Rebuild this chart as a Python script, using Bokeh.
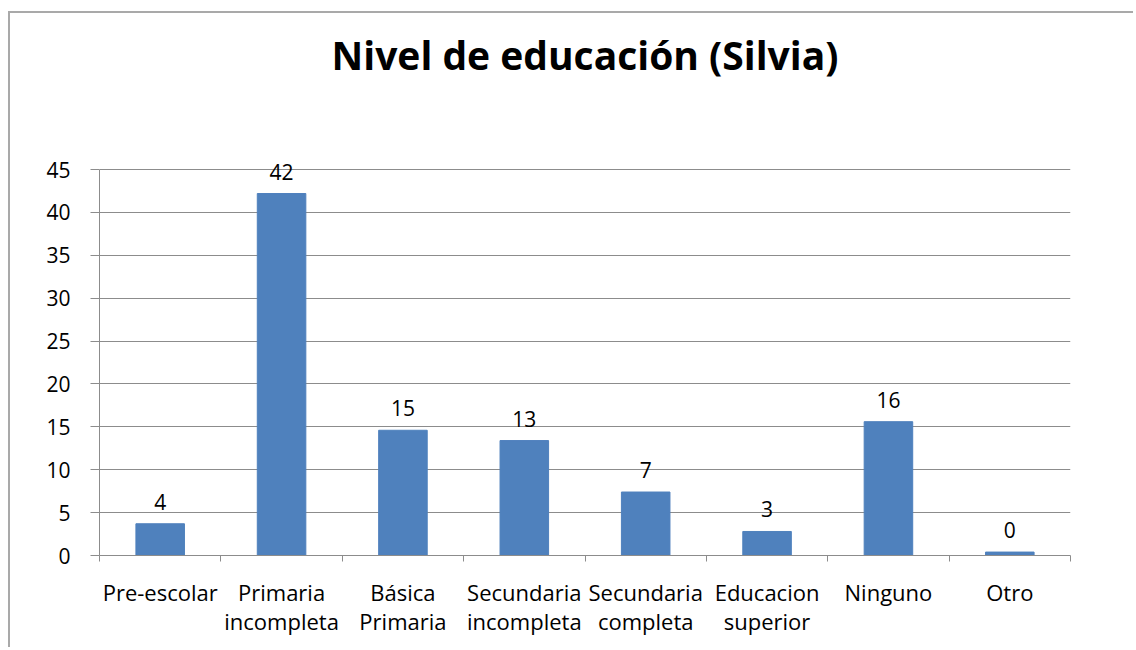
from bokeh.plotting import figure
from bokeh.models import ColumnDataSource, FixedTicker, Range1d, LabelSet, Title
from bokeh.core.properties import value
from bokeh.embed import file_html
from bokeh.resources import INLINE

categories = ["Pre-escolar", "Primaria\nincompleta", "Básica\nPrimaria",
              "Secundaria\nincompleta", "Secundaria\ncompleta", "Educacion\nsuperior",
              "Ninguno", "Otro"]
values = [3.7, 42.2, 14.6, 13.4, 7.4, 2.8, 15.6, 0.4]
y_ticks = [0, 5, 10, 15, 20, 25, 30, 35, 40, 45]
y_max = 45

FONT = "Open Sans"
BAR = "#4F81BD"
GRID = "#8C8C8C"

# frame extends a little above the 45 line so that the "42" label is not clipped
axis_h = 386
extra = 17
y_top = y_max * (axis_h + extra) / axis_h

xpos = [i + 0.5 for i in range(len(categories))]
src = ColumnDataSource(dict(x=xpos, top=values,
                            lab=[str(round(v)) for v in values]))

p = figure(width=1125, height=636, output_backend="svg", toolbar_location=None,
           x_range=Range1d(0, len(categories)), y_range=Range1d(0, y_top),
           min_border_left=89, min_border_right=65, min_border_top=156 - extra,
           min_border_bottom=94)
p.margin = (11, 0, 0, 8)
p.styles = {"border-top": "2px solid #A9A9A9", "border-left": "2px solid #A9A9A9"}

spacer = Title(text=" ", text_font_size="2px", standoff=56)
p.add_layout(spacer, "above")

p.title.text = "Nivel de educación (Silvia)"
p.title.align = "center"
p.title.vertical_align = "middle"
p.title.text_font = FONT
p.title.text_font_size = "39px"
p.title.text_font_style = "bold"
p.title.text_color = "#000000"
p.title.standoff = 21

p.vbar(x="x", top="top", width=0.4, bottom=0, source=src,
       fill_color=BAR, line_color=BAR)

labels = LabelSet(x="x", y="top", text="lab", source=src, text_align="center",
                  text_baseline="bottom", y_offset=14, text_font=value(FONT),
                  text_font_size="21px", text_color="#000000")
p.add_layout(labels)

p.outline_line_color = None
p.xgrid.grid_line_color = None
p.ygrid.grid_line_color = GRID
p.ygrid.grid_line_width = 1
p.ygrid.bounds = (0, y_max)

p.yaxis.ticker = FixedTicker(ticks=y_ticks)
p.yaxis.bounds = (0, y_max)
p.yaxis.axis_line_color = GRID
p.yaxis.major_tick_line_color = GRID
p.yaxis.major_tick_out = 9
p.yaxis.major_tick_in = 0
p.yaxis.minor_tick_line_color = None
p.yaxis.major_label_text_font = FONT
p.yaxis.major_label_text_font_size = "21px"
p.yaxis.major_label_text_color = "#000000"
p.yaxis.major_label_standoff = 20

p.xaxis.ticker = FixedTicker(ticks=xpos, minor_ticks=list(range(len(categories) + 1)))
p.xaxis.major_label_overrides = {x: c for x, c in zip(xpos, categories)}
p.xaxis.axis_line_color = GRID
p.xaxis.major_tick_line_color = None
p.xaxis.minor_tick_line_color = GRID
p.xaxis.minor_tick_out = 6
p.xaxis.minor_tick_in = 0
p.xaxis.major_label_text_font = FONT
p.xaxis.major_label_text_font_size = "22px"
p.xaxis.major_label_text_line_height = 0.98
p.xaxis.major_label_text_color = "#000000"
p.xaxis.major_label_standoff = 15

open("out.html", "w").write(file_html(p, INLINE))
